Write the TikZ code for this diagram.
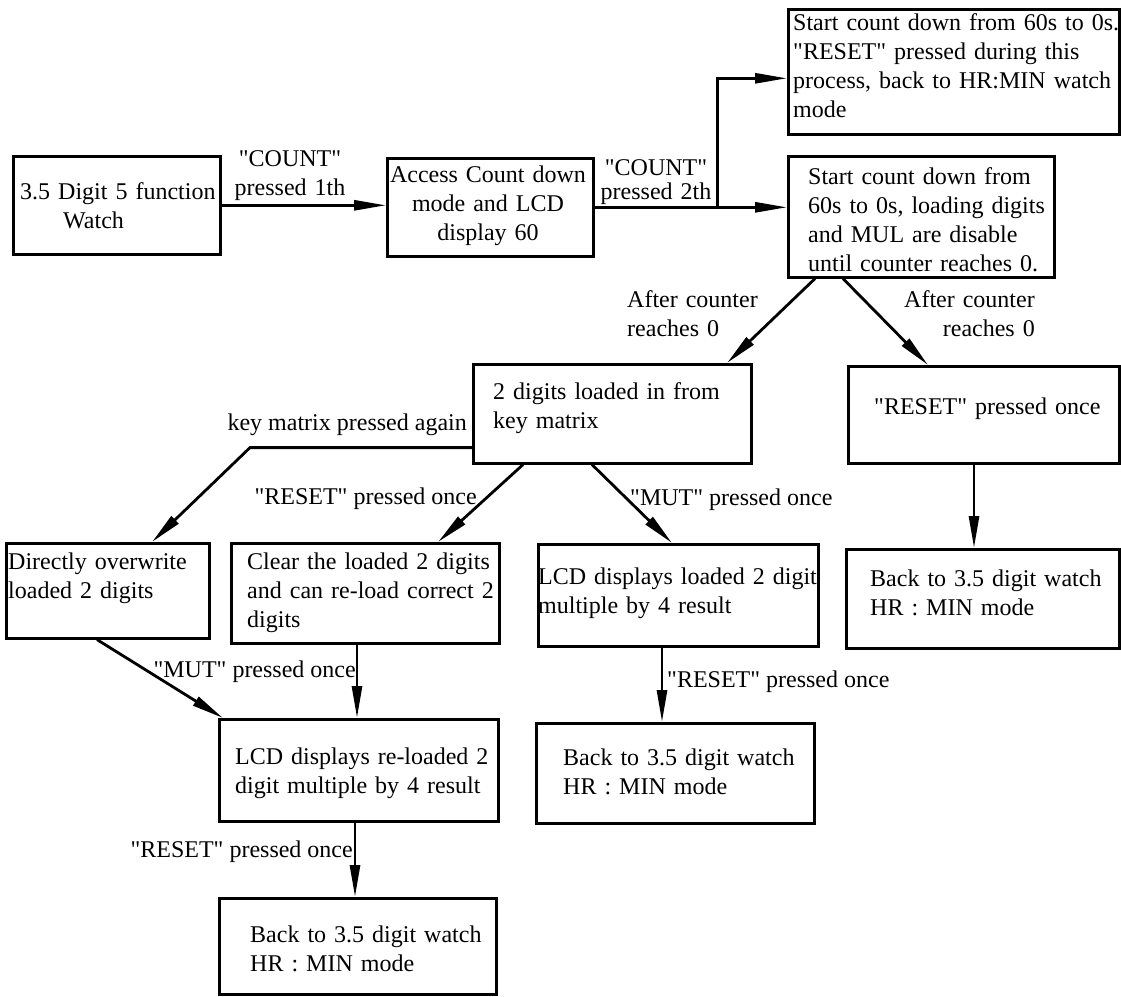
\documentclass[tikz,border=0pt]{standalone}
\usepackage{fontspec}
\setmainfont{Liberation Serif}[Ligatures=TeXOff]
\usetikzlibrary{arrows.meta,calc}
\begin{document}
\begin{tikzpicture}[x=1pt,y=-1pt,
  box/.style={draw, line width=2.6pt, rectangle, inner sep=0pt, anchor=north west},
  txt/.style={font=\fontsize{24}{29}\selectfont, inner sep=0pt, align=left, text width=340pt, anchor=base west},
  lbl/.style={font=\fontsize{24}{29}\selectfont, inner sep=0pt},
  arr/.style={line width=2.8pt, -{Triangle[length=32pt,width=10pt]}},
]
\useasboundingbox (0,0) rectangle (1121,996);

% boxes
\node[box, minimum width=207pt, minimum height=98pt]  (A) at (12,155) {};
\node[box, minimum width=206pt, minimum height=98pt]  (B) at (386,157) {};
\node[box, minimum width=331pt, minimum height=125pt] (C) at (787,8) {};
\node[box, minimum width=266pt, minimum height=121pt] (D) at (787,155) {};
\node[box, minimum width=278pt, minimum height=99pt]  (E) at (472,363) {};
\node[box, minimum width=271pt, minimum height=97pt]  (F) at (847,365) {};
\node[box, minimum width=203pt, minimum height=95pt]  (G) at (5,542) {};
\node[box, minimum width=268pt, minimum height=100pt] (H) at (230,542) {};
\node[box, minimum width=280pt, minimum height=102pt] (I) at (537,543) {};
\node[box, minimum width=279pt, minimum height=102pt] (J) at (218,718) {};
\node[box, minimum width=277pt, minimum height=96pt]  (K) at (218,897) {};
\node[box, minimum width=273pt, minimum height=99pt]  (L) at (845,548) {};
\node[box, minimum width=278pt, minimum height=100pt] (M) at (535,722) {};

% box texts
\node[txt] (At) at (20,199) {3.5 Digit 5 function\\\hspace*{43pt}Watch};
\node[txt, text width=206pt, align=center, anchor=base] (Bt) at (488,182) {Access Count down\\mode and LCD\\display 60};
\node[txt] (Ct) at (793,30) {Start count down from 60s to 0s.\\"RESET" pressed during this\\process, back to HR:MIN watch\\mode};
\node[txt] (Dt) at (808,184) {Start count down from\\60s to 0s, loading digits\\and MUL are disable\\until counter reaches 0.};
\node[txt] (Et) at (493,399) {2 digits loaded in from\\key matrix};
\node[txt] (Ft) at (874,414) {"RESET" pressed once};
\node[txt] (Gt) at (8,569) {Directly overwrite\\loaded 2 digits};
\node[txt] (Ht) at (247,569) {Clear the loaded 2 digits\\and can re-load correct 2\\digits};
\node[txt] (It) at (538,584) {LCD displays loaded 2 digit\\multiple by 4 result};
\node[txt] (Jt) at (235,764) {LCD displays re-loaded 2\\digit multiple by 4 result};
\node[txt] (Kt) at (250,942) {Back to 3.5 digit watch\\HR : MIN mode};
\node[txt] (Lt) at (870,586) {Back to 3.5 digit watch\\HR : MIN mode};
\node[txt] (Mt) at (563,765) {Back to 3.5 digit watch\\HR : MIN mode};

% connectors
\draw[arr] (A.east) -- (A.east -| B.west);
\draw[arr] (B.east) -- (B.east -| D.west);
\draw[arr] ([xshift=123pt]B.east) |- ([yshift=-6.5pt]C.west);
\draw[arr] ([xshift=28pt]D.south west) -- ([xshift=255pt]E.north west);
\draw[arr] ([xshift=56pt]D.south west) -- ([xshift=81pt]F.north west);
\draw[arr] ([xshift=127pt]F.south west) -- ([xshift=127pt]F.south west |- L.north);
\draw[arr] ([yshift=17pt]E.south west) -- ++(-222,0) -- ([xshift=147pt]G.north west);
\draw[arr] ([xshift=51pt]E.south west) -- ([xshift=208pt]H.north west);
\draw[arr] ([xshift=120pt]E.south west) -- ([xshift=135pt]I.north west);
\draw[arr] ([xshift=92pt]G.south west) -- ([xshift=5pt]J.north west);
\draw[arr] ([xshift=127pt]H.south west) -- ([xshift=127pt]H.south west |- J.north);
\draw[arr] ([xshift=137pt]J.south west) -- ([xshift=137pt]J.south west |- K.north);
\draw[arr] ([xshift=125pt]I.south west) -- ([xshift=125pt]I.south west |- M.north);

% connector labels
\node[txt, text width=160pt, align=center, anchor=base] (l1) at (290,166) {"COUNT"\\pressed 1th};
\node[txt, text width=160pt, align=center, anchor=base] (l2) at (656,175) {"COUNT"\\[-5pt]pressed 2th};
\node[lbl, anchor=base east] (l3) at (467,430) {key matrix pressed again};
\node[txt] (l4) at (627,307) {After counter\\reaches 0};
\node[txt, text width=200pt, align=right, anchor=base east] (l5) at (1035,307) {After counter\\reaches 0};
\node[lbl, anchor=base east] (l6) at (477,504) {"RESET" pressed once};
\node[lbl, anchor=base west] (l7) at (630,505) {"MUT" pressed once};
\node[lbl, anchor=base east] (l8) at (356,677) {"MUT" pressed once};
\node[lbl, anchor=base east] (l9) at (353,857) {"RESET" pressed once};
\node[lbl, anchor=base west] (l10) at (667,687) {"RESET" pressed once};
\end{tikzpicture}
\end{document}
